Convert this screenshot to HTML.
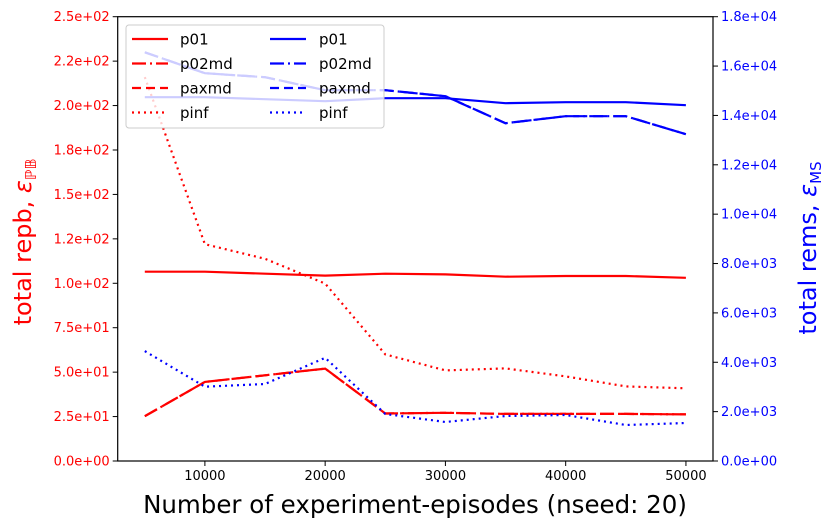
<!DOCTYPE html>
<html><head><meta charset="utf-8"><style>
body{margin:0;background:#fff;}
svg{display:block;font-family:"DejaVu Sans","Liberation Sans",sans-serif;}
</style></head><body>
<svg id="chart" width="830" height="532" viewBox="0 0 830 532"></svg>
<script>
const xValues=[5000,10000,15000,20000,25000,30000,35000,40000,45000,50000];
const redP01=[106.5,106.5,105.4,104.3,105.4,105.0,103.7,104.1,104.1,103.1];
const redP02md=[25.2,44.5,48.2,52.0,26.7,27.1,26.5,26.5,26.5,26.2];
const redPaxmd=[25.2,44.5,48.2,52.0,26.7,27.1,26.5,26.5,26.5,26.2];
const redPinf=[216,122,113.8,99.8,60,51,52.1,47.6,42,40.9];
const blueP01=[14737,14737,14657,14576,14697,14697,14495,14536,14536,14414];
const blueP02md=[16559,15710,15548,15022,15022,14779,13686,13969,13969,13240];
const bluePaxmd=[16559,15710,15548,15022,15022,14779,13686,13969,13969,13240];
const bluePinf=[4454,3010,3118,4182,1903,1579,1822,1863,1458,1539];
const xTicks=[10000,20000,30000,40000,50000];
const leftTicks=[0,25,50,75,100,125,150,175,200,225,250];
const leftTickLabels=["0.0e+00","2.5e+01","5.0e+01","7.5e+01","1.0e+02","1.2e+02","1.5e+02","1.8e+02","2.0e+02","2.2e+02","2.5e+02"];
const rightTicks=[0,2000,4000,6000,8000,10000,12000,14000,16000,18000];
const rightTickLabels=["0.0e+00","2.0e+03","4.0e+03","6.0e+03","8.0e+03","1.0e+04","1.2e+04","1.4e+04","1.6e+04","1.8e+04"];

const L=117.7,R=713,T=16.7,B=461;
const X=v=>L+(v-2750)/(52250-2750)*(R-L);
const YL=v=>B-v/250*(B-T);
const YR=v=>B-v/18000*(B-T);
const NS="http://www.w3.org/2000/svg";
const svg=document.getElementById('chart');
function mk(tag,attrs,parent){const e=document.createElementNS(NS,tag);for(const k in attrs)e.setAttribute(k,attrs[k]);(parent||svg).appendChild(e);return e;}

const series=[
 {d:redP01,y:YL,c:'#ff0000',dash:'',n:'red-p01-line'},
 {d:redP02md,y:YL,c:'#ff0000',dash:'14,4,2,4',n:'red-p02md-line'},
 {d:redPaxmd,y:YL,c:'#ff0000',dash:'14,6',n:'red-paxmd-line'},
 {d:redPinf,y:YL,c:'#ff0000',dash:'2,4',n:'red-pinf-line'},
 {d:blueP01,y:YR,c:'#0000ff',dash:'',n:'blue-p01-line'},
 {d:blueP02md,y:YR,c:'#0000ff',dash:'14,4,2,4',n:'blue-p02md-line'},
 {d:bluePaxmd,y:YR,c:'#0000ff',dash:'14,6',n:'blue-paxmd-line'},
 {d:bluePinf,y:YR,c:'#0000ff',dash:'2,4',n:'blue-pinf-line'}
];
series.forEach(s=>{
 const pts=xValues.map((x,i)=>X(x).toFixed(1)+','+s.y(s.d[i]).toFixed(1)).join(' ');
 const p=mk('polyline',{points:pts,fill:'none',stroke:s.c,'stroke-width':2.2,'stroke-dasharray':s.dash});
 
 
});

const ax=mk('rect',{x:L,y:T,width:R-L,height:B-T,fill:'none',stroke:'#000','stroke-width':1.2});


xTicks.forEach(v=>{
 mk('line',{x1:X(v),x2:X(v),y1:B,y2:B+5,stroke:'#000'});
 const t=mk('text',{x:X(v),y:B+19,'text-anchor':'middle','font-size':13,fill:'#000'});t.textContent=v;
 
 
});
leftTicks.forEach((v,i)=>{
 mk('line',{x1:L-5,x2:L,y1:YL(v),y2:YL(v),stroke:'#000'});
 const t=mk('text',{x:L-8,y:YL(v)+4.5,'text-anchor':'end','font-size':13,fill:'#ff0000'});t.textContent=leftTickLabels[i];
 
 
});
rightTicks.forEach((v,i)=>{
 mk('line',{x1:R,x2:R+5,y1:YR(v),y2:YR(v),stroke:'#000'});
 const t=mk('text',{x:R+8,y:YR(v)+4.5,'text-anchor':'start','font-size':13,fill:'#0000ff'});t.textContent=rightTickLabels[i];
 
 
});

const lg=mk('g',{});


mk('rect',{x:126,y:25,width:258,height:103,rx:3,fill:'#fff','fill-opacity':0.8,stroke:'#ccc'},lg);
const leg=[['p01','',0],['p02md','14,4,2,4',1],['paxmd','9,5',2],['pinf','2,4',3]];
[['#ff0000',132,180],['#0000ff',270,319]].forEach(([c,lx,tx])=>{
 leg.forEach(([n,d,r])=>{
  const y=39+r*24.5;
  mk('line',{x1:lx,x2:lx+36,y1:y,y2:y,stroke:c,'stroke-width':2.2,'stroke-dasharray':d},lg);
  const t=mk('text',{x:tx,y:y+5.5,'font-size':15,fill:'#000'},lg);t.textContent=n;
  
  
 });
});

const xt=mk('text',{x:415,y:513,'text-anchor':'middle','font-size':24.5,fill:'#000'});
xt.textContent='Number of experiment-episodes (nseed: 20)';


const yl=mk('text',{x:0,y:0,'text-anchor':'middle','font-size':24,fill:'#ff0000',transform:'translate(31,242) rotate(-90)'});
yl.innerHTML='total repb, <tspan font-style="italic">ε</tspan><tspan font-size="15" dy="5">ℙ𝔹</tspan>';


const yr=mk('text',{x:0,y:0,'text-anchor':'middle','font-size':24,fill:'#0000ff',transform:'translate(816,248) rotate(-90)'});
yr.innerHTML='total rems, <tspan font-style="italic">ε</tspan><tspan font-size="15" dy="5">MS</tspan>';


</script>
</body></html>
